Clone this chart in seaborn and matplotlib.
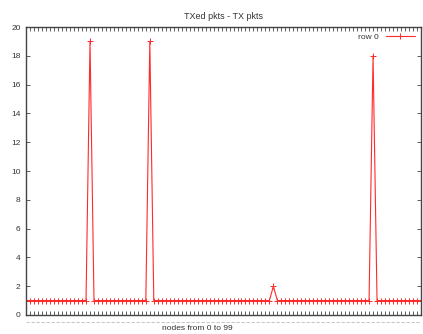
import numpy as np
import pandas as pd
import matplotlib
matplotlib.use('Agg')
import matplotlib.pyplot as plt
import seaborn as sns
from matplotlib.ticker import MultipleLocator
from matplotlib.lines import Line2D

# TXed - TX packet difference per node (row 0)
nodes = list(range(100))
row0 = [1] * 100
row0[16] = 19
row0[31] = 19
row0[62] = 2
row0[87] = 18

df = pd.DataFrame({'node': nodes, 'pkts': row0})

sns.set_style('white')
plt.rcParams['font.family'] = ['Liberation Sans', 'DejaVu Sans']

fig = plt.figure(figsize=(4.23, 3.34), dpi=100)
ax = fig.add_axes([0.062, 0.057, 0.933, 0.862])

red = '#ff2a2a'
sns.lineplot(data=df, x='node', y='pkts', ax=ax, color=red, linewidth=0.8,
             marker='+', markersize=4, markeredgewidth=0.7,
             markeredgecolor=red, label='row 0')

ax.set_xlim(0, 99)
ax.set_ylim(0, 20)
ax.yaxis.set_major_locator(MultipleLocator(2))
ax.xaxis.set_major_locator(MultipleLocator(1))
ax.set_xticklabels([])
ax.tick_params(axis='x', which='both', direction='in', top=True, bottom=True,
               length=3, width=0.6, color='#444444')
ax.tick_params(axis='y', which='both', direction='in', left=True, right=True,
               length=3, width=0.6, color='#444444', labelsize=6, pad=4,
               labelcolor='#333333')
for s in ax.spines.values():
    s.set_color('#444444')
    s.set_linewidth(1.0)

ax.set_title('TXed pkts - TX pkts', fontsize=6.5, color='#333333', pad=6)
ax.set_xlabel('')
ax.set_ylabel('')
fig.text(0.466, 0.016, 'nodes from 0 to 99', fontsize=6, color='#333333',
         ha='center', va='center')

leg = ax.legend(loc='upper right', frameon=False, fontsize=6, markerfirst=False,
                handlelength=3.5, borderaxespad=0.3)
for t in leg.get_texts():
    t.set_color('#333333')

fig.add_artist(Line2D([0.062, 0.995], [0.036, 0.036], transform=fig.transFigure,
                      color='#bbbbbb', linewidth=0.6, linestyle=(0, (4, 2))))

fig.savefig('out.png', dpi=100)
